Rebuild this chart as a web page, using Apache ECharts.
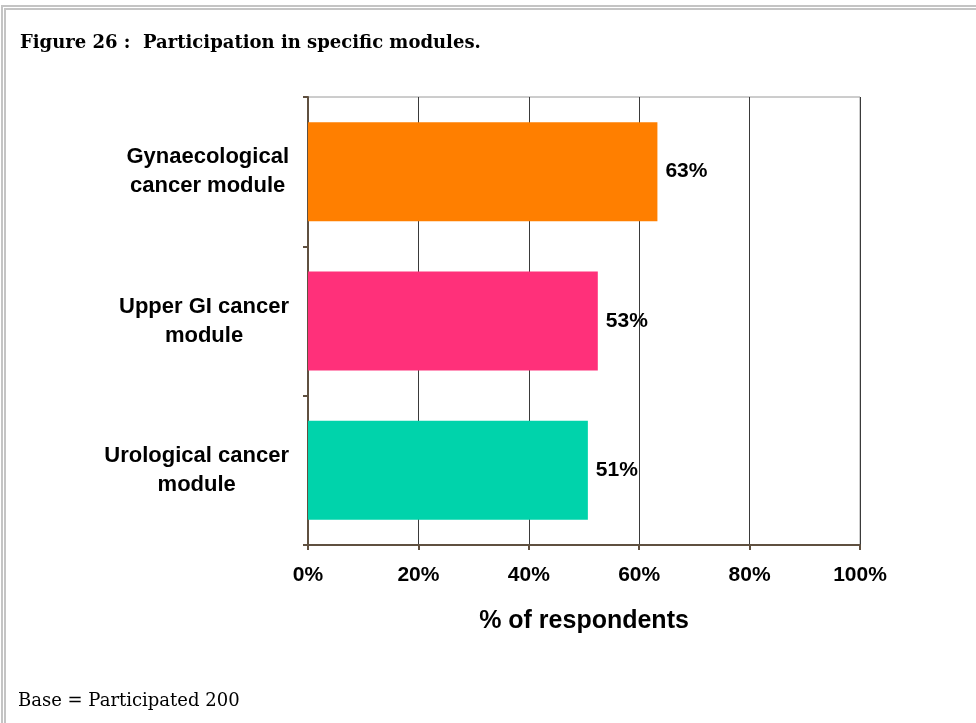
<!DOCTYPE html>
<html>
<head>
<meta charset="utf-8">
<script src="https://cdn.jsdelivr.net/npm/echarts@6/dist/echarts.min.js"></script>
<style>
    html, body { margin: 0; padding: 0; background: #fff; }
    #wrap { position: relative; width: 976px; height: 723px; overflow: hidden; }
    #chart { position: absolute; left: 0; top: 0; width: 976px; height: 723px; }
    /* double grey frame round the figure */
    #frame {
        position: absolute; left: 1px; top: 5px; width: 1000px; height: 800px;
        border-top: 5px double #c4c4c4; border-left: 5px double #c4c4c4;
        pointer-events: none;
    }
</style>
</head>
<body>
<div id="wrap">
    <div id="chart"></div>
    <div id="frame"></div>
</div>
<script>
    // modules, top to bottom
    const categories = ['Gynaecological\ncancer module', 'Upper GI cancer\nmodule', 'Urological cancer\nmodule'];
    // % of respondents
    const values = [63.3, 52.5, 50.7];
    const barColors = ['#ff7f00', '#ff307a', '#00d3ab'];
    const xTicks = [0, 20, 40, 60, 80, 100];

    const chart = echarts.init(document.getElementById('chart'));
    const boldFont = 'Liberation Sans, Arial, sans-serif';

    const option = {
        backgroundColor: 'transparent',
        animation: false,
        title: [{
            text: 'Figure 26 :  Participation in specific modules.',
            left: 15,
            top: 29,
            textStyle: {
                fontFamily: 'DejaVu Serif',
                fontWeight: 'bold',
                fontSize: 18,
                color: '#000'
            }
        }, {
            text: 'Base = Participated 200',
            left: 13,
            top: 687,
            textStyle: {
                fontFamily: 'DejaVu Serif',
                fontWeight: 'normal',
                fontSize: 18,
                color: '#000'
            }
        }],
        grid: {
            left: 308,
            right: 116,
            top: 97,
            bottom: 178,
            show: true,
            borderColor: '#9a9a9a',
            borderWidth: 1
        },
        xAxis: {
            type: 'value',
            min: xTicks[0],
            max: xTicks[xTicks.length - 1],
            interval: 20,
            name: '% of respondents',
            nameLocation: 'middle',
            nameGap: 64,
            nameTextStyle: {
                fontFamily: boldFont,
                fontWeight: 'bold',
                fontSize: 25,
                color: '#000'
            },
            axisLine: { show: true, lineStyle: { color: '#5f5040', width: 2 } },
            axisTick: { show: true, length: 5, lineStyle: { color: '#5f5040', width: 2 } },
            axisLabel: {
                margin: 20,
                fontFamily: boldFont,
                fontWeight: 'bold',
                fontSize: 21,
                color: '#000',
                formatter: v => v + '%'
            },
            splitLine: { show: true, lineStyle: { color: '#3a3a3a', width: 1 } }
        },
        yAxis: {
            type: 'category',
            inverse: true,
            data: categories,
            axisLine: { show: true, lineStyle: { color: '#5f5040', width: 2 } },
            axisTick: { show: true, length: 5, lineStyle: { color: '#5f5040', width: 2 } },
            axisLabel: {
                margin: 19,
                align: 'right',
                // right-anchored block, each line centred inside it
                formatter: v => v.split('\n').map(s => '{c|' + s + '}').join('\n'),
                rich: {
                    c: {
                        align: 'center',
                        lineHeight: 29,
                        fontFamily: boldFont,
                        fontWeight: 'bold',
                        fontSize: 22,
                        color: '#000'
                    }
                }
            }
        },
        series: [{
            type: 'bar',
            barWidth: 99,
            data: values.map((v, i) => ({ value: v, itemStyle: { color: barColors[i] } })),
            label: {
                show: true,
                position: 'right',
                distance: 8,
                fontFamily: boldFont,
                fontWeight: 'bold',
                fontSize: 21,
                color: '#000',
                formatter: p => Math.round(p.value) + '%'
            }
        }]
    };

    chart.setOption(option);
</script>
</body>
</html>
